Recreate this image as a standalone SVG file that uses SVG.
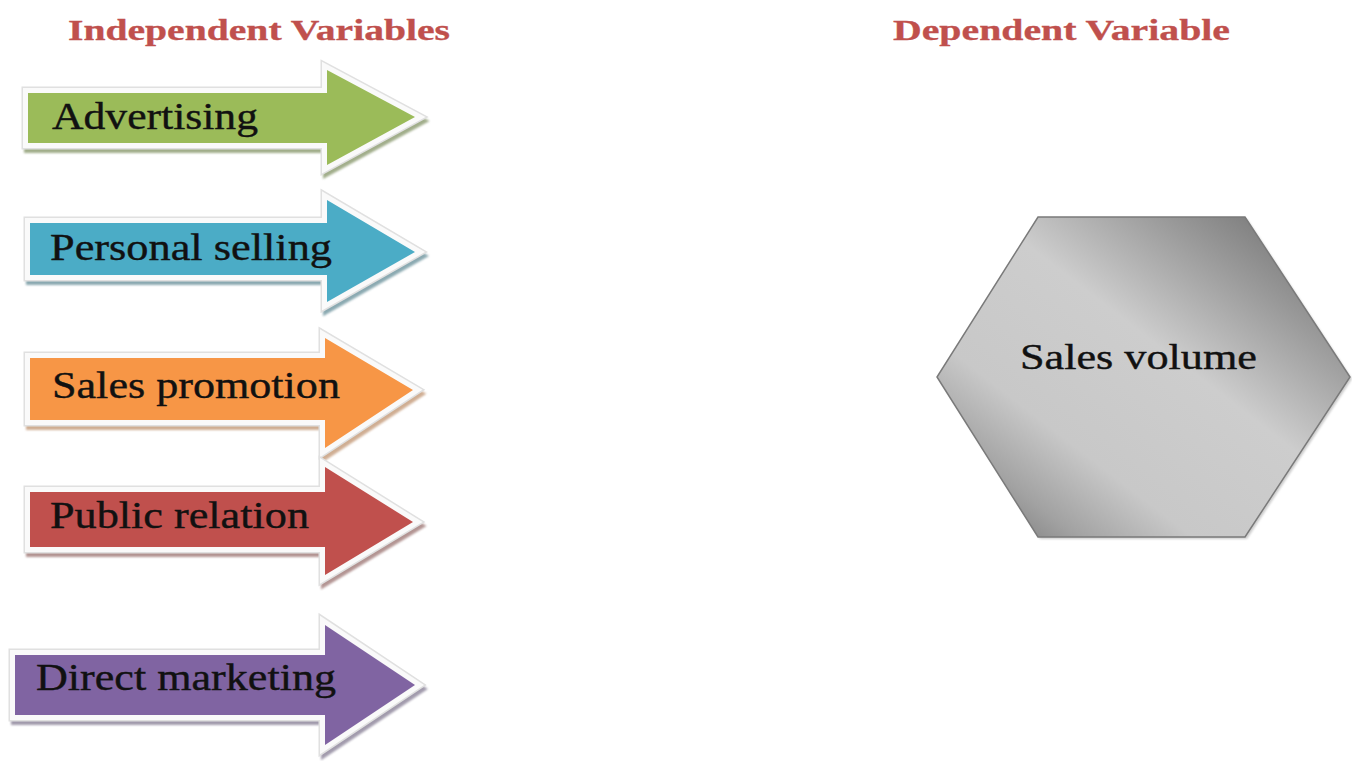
<svg xmlns="http://www.w3.org/2000/svg" width="1352" height="761" viewBox="0 0 1352 761">
  <style>
    .hdr { font-family: "Liberation Serif", "Times New Roman", serif; font-weight: bold; font-size: 29px; fill: #c0504d; stroke: #c0504d; stroke-width: 0.3; }
    .lbl { font-family: "Liberation Serif", "Times New Roman", serif; font-size: 38px; fill: #111; stroke: #111; stroke-width: 0.4; }
    .rim { fill: none; stroke: #e0e0e0; stroke-width: 13; stroke-linejoin: miter; }
    .border { fill: none; stroke: #fafafa; stroke-width: 10; stroke-linejoin: miter; }
    .shadow { filter: url(#blur); opacity: 0.8; stroke-width: 12; stroke-linejoin: miter; }
  </style>
  <defs>
    <filter id="blur" x="-10%" y="-10%" width="120%" height="130%">
      <feGaussianBlur stdDeviation="1"/>
    </filter>
    <linearGradient id="hexg" gradientUnits="userSpaceOnUse" x1="1275" y1="205" x2="1010" y2="550">
      <stop offset="0" stop-color="#757575"/>
      <stop offset="0.18" stop-color="#9a9a9a"/>
      <stop offset="0.42" stop-color="#cdcdcd"/>
      <stop offset="0.72" stop-color="#c8c8c8"/>
      <stop offset="0.88" stop-color="#a2a2a2"/>
      <stop offset="1" stop-color="#7c7c7c"/>
    </linearGradient>
  </defs>
  <rect width="1352" height="761" fill="#fff"/>

  <g id="header-independent">
    <text class="hdr" x="68" y="40" textLength="382" lengthAdjust="spacingAndGlyphs">Independent Variables</text>
  </g>
  <g id="header-dependent">
    <text class="hdr" x="893" y="40" textLength="337" lengthAdjust="spacingAndGlyphs">Dependent Variable</text>
  </g>

  <g id="arrow-advertising">
    <path class="shadow" transform="translate(2,4)" fill="#8a9a6e" stroke="#8a9a6e" d="M28,93 L327,93 L327,70 L415,117 L327,165 L327,143 L28,143 Z"/>
    <path class="rim" d="M28,93 L327,93 L327,70 L415,117 L327,165 L327,143 L28,143 Z"/>
    <path class="border" d="M28,93 L327,93 L327,70 L415,117 L327,165 L327,143 L28,143 Z"/>
    <path fill="#9bbb59" d="M28,93 L327,93 L327,70 L415,117 L327,165 L327,143 L28,143 Z"/>
    <text class="lbl" x="52" y="129" textLength="206" lengthAdjust="spacingAndGlyphs">Advertising</text>
  </g>

  <g id="arrow-personal-selling">
    <path class="shadow" transform="translate(2,4)" fill="#6e949e" stroke="#6e949e" d="M30,223 L327,223 L327,200 L415,252 L327,302 L327,275 L30,275 Z"/>
    <path class="rim" d="M30,223 L327,223 L327,200 L415,252 L327,302 L327,275 L30,275 Z"/>
    <path class="border" d="M30,223 L327,223 L327,200 L415,252 L327,302 L327,275 L30,275 Z"/>
    <path fill="#4bacc6" d="M30,223 L327,223 L327,200 L415,252 L327,302 L327,275 L30,275 Z"/>
    <text class="lbl" x="50" y="260" textLength="282" lengthAdjust="spacingAndGlyphs">Personal selling</text>
  </g>

  <g id="arrow-sales-promotion">
    <path class="shadow" transform="translate(2,4)" fill="#c49a78" stroke="#c49a78" d="M30,358 L325,358 L325,338 L413,390 L325,448 L325,420 L30,420 Z"/>
    <path class="rim" d="M30,358 L325,358 L325,338 L413,390 L325,448 L325,420 L30,420 Z"/>
    <path class="border" d="M30,358 L325,358 L325,338 L413,390 L325,448 L325,420 L30,420 Z"/>
    <path fill="#f79646" d="M30,358 L325,358 L325,338 L413,390 L325,448 L325,420 L30,420 Z"/>
    <text class="lbl" x="52" y="398" textLength="288" lengthAdjust="spacingAndGlyphs">Sales promotion</text>
  </g>

  <g id="arrow-public-relation">
    <path class="shadow" transform="translate(2,4)" fill="#a07a78" stroke="#a07a78" d="M30,492 L325,492 L325,467 L413,522 L325,575 L325,547 L30,547 Z"/>
    <path class="rim" d="M30,492 L325,492 L325,467 L413,522 L325,575 L325,547 L30,547 Z"/>
    <path class="border" d="M30,492 L325,492 L325,467 L413,522 L325,575 L325,547 L30,547 Z"/>
    <path fill="#c0504d" d="M30,492 L325,492 L325,467 L413,522 L325,575 L325,547 L30,547 Z"/>
    <text class="lbl" x="50" y="528" textLength="259" lengthAdjust="spacingAndGlyphs">Public relation</text>
  </g>

  <g id="arrow-direct-marketing">
    <path class="shadow" transform="translate(2,4)" fill="#8a8298" stroke="#8a8298" d="M15,655 L325,655 L325,625 L415,685 L325,745 L325,715 L15,715 Z"/>
    <path class="rim" d="M15,655 L325,655 L325,625 L415,685 L325,745 L325,715 L15,715 Z"/>
    <path class="border" d="M15,655 L325,655 L325,625 L415,685 L325,745 L325,715 L15,715 Z"/>
    <path fill="#8064a2" d="M15,655 L325,655 L325,625 L415,685 L325,745 L325,715 L15,715 Z"/>
    <text class="lbl" x="36" y="690" textLength="300" lengthAdjust="spacingAndGlyphs">Direct marketing</text>
  </g>

  <g id="connectors"></g>

  <g id="node-sales-volume">
    <polygon points="1040,219 1247,219 1352,379 1247,539 1040,539 939,379" fill="#999" opacity="0.5" filter="url(#blur)"/>
    <polygon points="1038,217 1245,217 1350,377 1245,537 1038,537 937,377" fill="url(#hexg)" stroke="#7a7a7a" stroke-width="1.5"/>
    <text x="1020" y="369" font-family="'Liberation Serif', 'Times New Roman', serif" font-size="35" fill="#111" stroke="#111" stroke-width="0.4" textLength="237" lengthAdjust="spacingAndGlyphs">Sales volume</text>
  </g>
</svg>
